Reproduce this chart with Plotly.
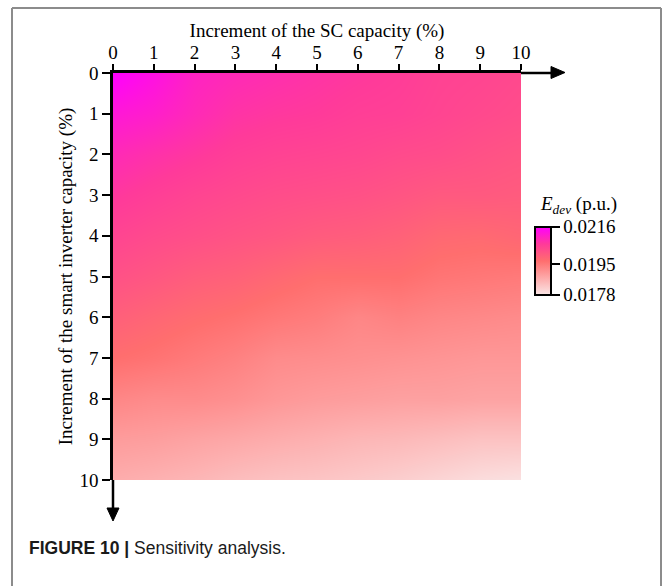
import plotly.graph_objects as go

# ---- data ----
sc_increment = [0, 1, 2, 3, 4, 5, 6, 7, 8, 9, 10]          # x (%)
inverter_increment = [0, 1, 2, 3, 4, 5, 6, 7, 8, 9, 10]    # y (%)
e_dev = [
    [0.02160, 0.02133, 0.02103, 0.02092, 0.02084, 0.02076, 0.02069, 0.02061, 0.02050, 0.02046, 0.02038],
    [0.02122, 0.02111, 0.02092, 0.02076, 0.02069, 0.02065, 0.02057, 0.02054, 0.02046, 0.02038, 0.02031],
    [0.02092, 0.02080, 0.02069, 0.02057, 0.02050, 0.02046, 0.02042, 0.02035, 0.02031, 0.02023, 0.02016],
    [0.02069, 0.02057, 0.02046, 0.02038, 0.02031, 0.02027, 0.02023, 0.02016, 0.02008, 0.02008, 0.02004],
    [0.02046, 0.02035, 0.02027, 0.02019, 0.02012, 0.02004, 0.02000, 0.01993, 0.01981, 0.01978, 0.01985],
    [0.02023, 0.02012, 0.02000, 0.01993, 0.01981, 0.01970, 0.01970, 0.01970, 0.01959, 0.01955, 0.01951],
    [0.01997, 0.01985, 0.01974, 0.01966, 0.01955, 0.01947, 0.01932, 0.01940, 0.01932, 0.01928, 0.01924],
    [0.01970, 0.01962, 0.01951, 0.01940, 0.01924, 0.01921, 0.01917, 0.01913, 0.01909, 0.01905, 0.01905],
    [0.01932, 0.01924, 0.01924, 0.01917, 0.01905, 0.01898, 0.01894, 0.01890, 0.01890, 0.01886, 0.01886],
    [0.01898, 0.01894, 0.01886, 0.01879, 0.01871, 0.01864, 0.01856, 0.01852, 0.01845, 0.01837, 0.01837],
    [0.01871, 0.01864, 0.01856, 0.01845, 0.01837, 0.01833, 0.01826, 0.01818, 0.01807, 0.01795, 0.01788],
]
cbar_ticks = [0.0178, 0.0195, 0.0216]
cbar_ticktext = ["0.0178", "0.0195", "0.0216"]

# ---- layout geometry ----
W, H = 664, 586
L, R, T, B = 113, 143, 73, 106
PW, PH = W - L - R, H - T - B


def px(x):
    return (x - L) / PW


def py(y):
    return (H - B - y) / PH


SERIF = "Liberation Serif, Times New Roman, serif"
SANS = "Liberation Sans, Arial, sans-serif"

fig = go.Figure(
    go.Heatmap(
        x=sc_increment,
        y=inverter_increment,
        z=e_dev,
        zmin=0.0178,
        zmax=0.0216,
        zsmooth="best",
        colorscale=[
            [0.0, "#fae6e6"],
            [0.25, "#fdaaaa"],
            [0.5, "#ff6e6e"],
            [0.75, "#ff3a9a"],
            [1.0, "#ff00ff"],
        ],
        colorbar=dict(
            x=px(535), xanchor="left", xpad=0,
            y=py(260.5), yanchor="middle", ypad=0,
            thickness=16, lenmode="pixels", len=68,
            outlinewidth=2, outlinecolor="black",
            tickmode="array", tickvals=cbar_ticks, ticktext=cbar_ticktext,
            ticks="outside", ticklen=8, tickwidth=2, tickcolor="black",
            tickfont=dict(family=SERIF, size=19, color="black"),
        ),
        hoverinfo="skip",
    )
)

axis_common = dict(
    showgrid=False, zeroline=False, showline=True, linecolor="black", linewidth=2.5,
    ticks="outside", tickcolor="black", tickwidth=1.5, dtick=1, tick0=0,
    tickfont=dict(family=SERIF, size=19, color="black"),
    title_font=dict(family=SERIF, size=19, color="black"),
)

fig.update_xaxes(
    **axis_common, side="top", range=[0, 10], ticklen=6, ticklabelstandoff=-2,
    title_text="Increment of the SC capacity (%)", title_standoff=0,
)
fig.update_yaxes(
    **axis_common, range=[10, 0], ticklen=8,
    title_text="Increment of the smart inverter capacity (%)", title_standoff=2,
)

shapes = [
    # axis arrows
    dict(type="line", xref="paper", yref="paper", x0=1, y0=1, x1=px(552), y1=1,
         line=dict(color="black", width=2.5)),
    dict(type="path", xref="paper", yref="paper",
         path=f"M {px(551)},{py(66.5)} L {px(565)},{py(72.5)} L {px(551)},{py(78.5)} Z",
         fillcolor="black", line=dict(color="black", width=1)),
    dict(type="line", xref="paper", yref="paper", x0=0, y0=0, x1=0, y1=py(510),
         line=dict(color="black", width=2.5)),
    dict(type="path", xref="paper", yref="paper",
         path=f"M {px(107)},{py(508)} L {px(113)},{py(521)} L {px(119)},{py(508)} Z",
         fillcolor="black", line=dict(color="black", width=1)),
    # frame
    dict(type="line", xref="paper", yref="paper", x0=px(12), y0=py(8), x1=px(661), y1=py(8),
         line=dict(color="#8c8c8c", width=2)),
    dict(type="line", xref="paper", yref="paper", x0=px(12), y0=py(8), x1=px(12), y1=py(590),
         line=dict(color="#8c8c8c", width=2)),
    dict(type="line", xref="paper", yref="paper", x0=px(661), y0=py(8), x1=px(661), y1=py(590),
         line=dict(color="#8c8c8c", width=2)),
]

annotations = [
    dict(xref="paper", yref="paper", x=px(538), y=py(205), xanchor="left", yanchor="middle",
         text="<i>E</i><sub><i>dev</i></sub> (p.u.)", showarrow=False,
         font=dict(family=SERIF, size=19, color="black")),
    dict(xref="paper", yref="paper", x=px(27), y=py(548), xanchor="left", yanchor="middle",
         text="<b>FIGURE 10 |</b> Sensitivity analysis.", showarrow=False,
         font=dict(family=SANS, size=17.5, color="#1a1a1a")),
]

fig.update_layout(
    width=W, height=H,
    margin=dict(l=L, r=R, t=T, b=B),
    paper_bgcolor="white", plot_bgcolor="white",
    shapes=shapes, annotations=annotations,
    showlegend=False,
)

fig.write_html(
    "out.html",
    config={"displayModeBar": False},
    post_script="document.body.style.margin='0';",
)
